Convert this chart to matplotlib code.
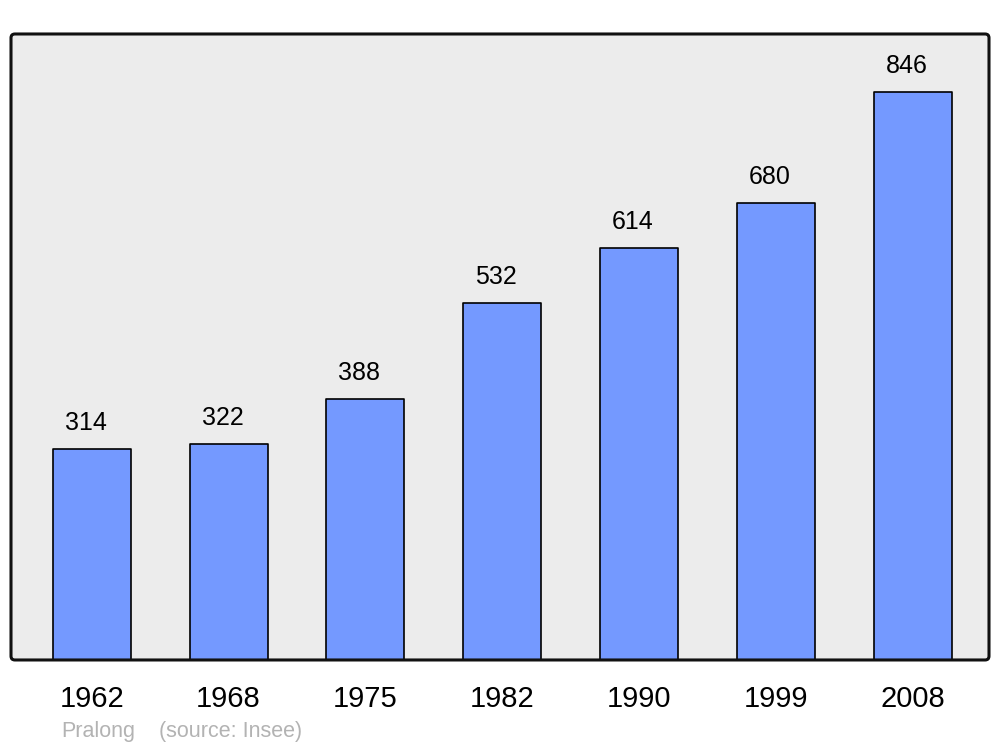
"""Population bar chart for Pralong"""

import matplotlib
matplotlib.use('Agg')
import matplotlib.pyplot as plt
from matplotlib.patches import FancyBboxPatch

# Data
years = ['1962', '1968', '1975', '1982', '1990', '1999', '2008']
population = [314, 322, 388, 532, 614, 680, 846]
commune = 'Pralong'
source = '(source: Insee)'

plt.rcParams['font.family'] = ['Liberation Sans', 'DejaVu Sans']

fig = plt.figure(figsize=(10, 7.47), dpi=100)
ax = fig.add_axes([0.011, 0.1165, 0.978, 0.838])
ax.set_facecolor('#ececec')

x = range(len(years))
bars = ax.bar(x, population, width=0.57, color='#7499ff', edgecolor='black',
              linewidth=1.2, joinstyle='round', zorder=2)

for xi, val in zip(x, population):
    ax.annotate(str(val), (xi, val), xytext=(-6, 26), textcoords='offset pixels',
                ha='center', va='center', fontsize=18)

ax.set_xlim(-0.59, 6.559)
ax.set_ylim(0, 932.4)
ax.set_yticks([])
ax.set_xticks(list(x))
ax.set_xticklabels(years, fontsize=21)
ax.tick_params(axis='x', length=0, pad=18)
for s in ax.spines.values():
    s.set_visible(False)

# rounded frame
frame = FancyBboxPatch((0, 0), 1, 1, boxstyle='round,pad=0,rounding_size=0.004',
                       mutation_aspect=978 / 626, transform=ax.transAxes,
                       facecolor='none', edgecolor='#111111', linewidth=2.2,
                       clip_on=False, zorder=5)
ax.add_patch(frame)

fig.text(0.061, 1 - 731 / 747, commune, fontsize=15.5, color='#b3b3b3', va='center')
fig.text(0.159, 1 - 731 / 747, source, fontsize=15.5, color='#b3b3b3', va='center')

plt.savefig('out.png', dpi=100, facecolor='white')
